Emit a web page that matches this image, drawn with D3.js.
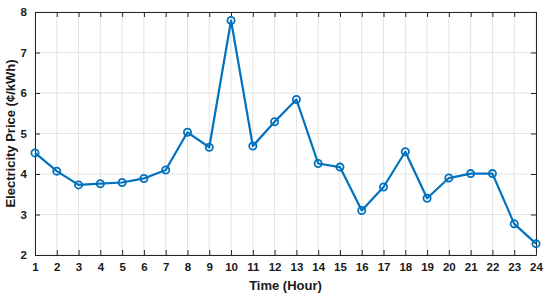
<!DOCTYPE html>
<html>
<head>
<meta charset="utf-8">
<script src="https://cdn.jsdelivr.net/npm/d3@7"></script>
<style>
  body { margin: 0; background: #fff; }
  svg { display: block; font-family: "Liberation Sans", Arial, sans-serif; }
</style>
</head>
<body>
<script>
const hours = d3.range(1, 25)
const prices = [4.52, 4.07, 3.73, 3.76, 3.79, 3.89, 4.10, 5.03, 4.66, 7.79, 4.69, 5.29,
    5.84, 4.26, 4.17, 3.10, 3.68, 4.55, 3.40, 3.90, 4.01, 4.01, 2.77, 2.28]
const yTicks = [2, 3, 4, 5, 6, 7, 8]

const W = 550, H = 297
const m = { left: 35, right: 14, top: 12, bottom: 42 }

const svg = d3.select('body').append('svg')
    .attr('width', W)
    .attr('height', H)

const x = d3.scaleLinear().domain([1, 24]).range([m.left, W - m.right])
const y = d3.scaleLinear().domain([2, 8]).range([H - m.bottom, m.top])

// grid
svg.append('g').selectAll('line').data(hours).join('line')
    .attr('x1', d => x(d)).attr('x2', d => x(d))
    .attr('y1', y(2)).attr('y2', y(8))
    .attr('stroke', '#e3e3e3').attr('stroke-width', 1)
svg.append('g').selectAll('line').data(yTicks).join('line')
    .attr('x1', x(1)).attr('x2', x(24))
    .attr('y1', d => y(d)).attr('y2', d => y(d))
    .attr('stroke', '#e3e3e3').attr('stroke-width', 1)

// axes, ticks pointing inward like matlab
const axisColor = '#262626'
const xb = svg.append('g').attr('transform', `translate(0,${y(2)})`)
    .call(d3.axisBottom(x).tickValues(hours).tickFormat(d3.format('d')).tickSizeInner(-5).tickSizeOuter(0).tickPadding(8))
const xt = svg.append('g').attr('transform', `translate(0,${y(8)})`)
    .call(d3.axisTop(x).tickValues(hours).tickFormat('').tickSizeInner(-5).tickSizeOuter(0))
const yl = svg.append('g').attr('transform', `translate(${x(1)},0)`)
    .call(d3.axisLeft(y).tickValues(yTicks).tickFormat(d3.format('d')).tickSizeInner(-5).tickSizeOuter(0).tickPadding(8))
const yr = svg.append('g').attr('transform', `translate(${x(24)},0)`)
    .call(d3.axisRight(y).tickValues(yTicks).tickFormat('').tickSizeInner(-5).tickSizeOuter(0))

for (let g of [xb, xt, yl, yr]) {
    g.select('.domain').attr('stroke', axisColor).attr('stroke-width', 1)
    g.selectAll('.tick line').attr('stroke', axisColor)
    g.selectAll('.tick text')
        .attr('fill', '#1a1a1a')
        .style('font-size', '11.5px')
        .style('font-weight', 'bold')
}

// line + markers
const blue = '#0072BD'
const line = d3.line().x((d, i) => x(hours[i])).y(d => y(d))

svg.append('path')
    .datum(prices)
    .attr('d', line)
    .attr('fill', 'none')
    .attr('stroke', blue)
    .attr('stroke-width', 2.2)
    .attr('stroke-linejoin', 'round')

svg.append('g').selectAll('circle').data(prices).join('circle')
    .attr('cx', (d, i) => x(hours[i]))
    .attr('cy', d => y(d))
    .attr('r', 3.6)
    .attr('fill', 'none')
    .attr('stroke', blue)
    .attr('stroke-width', 1.8)

// labels
svg.append('text')
    .attr('x', (x(1) + x(24)) / 2)
    .attr('y', 290)
    .attr('text-anchor', 'middle')
    .attr('fill', '#1a1a1a')
    .style('font-size', '13px')
    .style('font-weight', 'bold')
    .text('Time (Hour)')

svg.append('text')
    .attr('transform', `translate(15,${(y(2) + y(8)) / 2}) rotate(-90)`)
    .attr('text-anchor', 'middle')
    .attr('fill', '#1a1a1a')
    .style('font-size', '13px')
    .style('font-weight', 'bold')
    .text('Electricity Price (¢/kWh)')
</script>
</body>
</html>
